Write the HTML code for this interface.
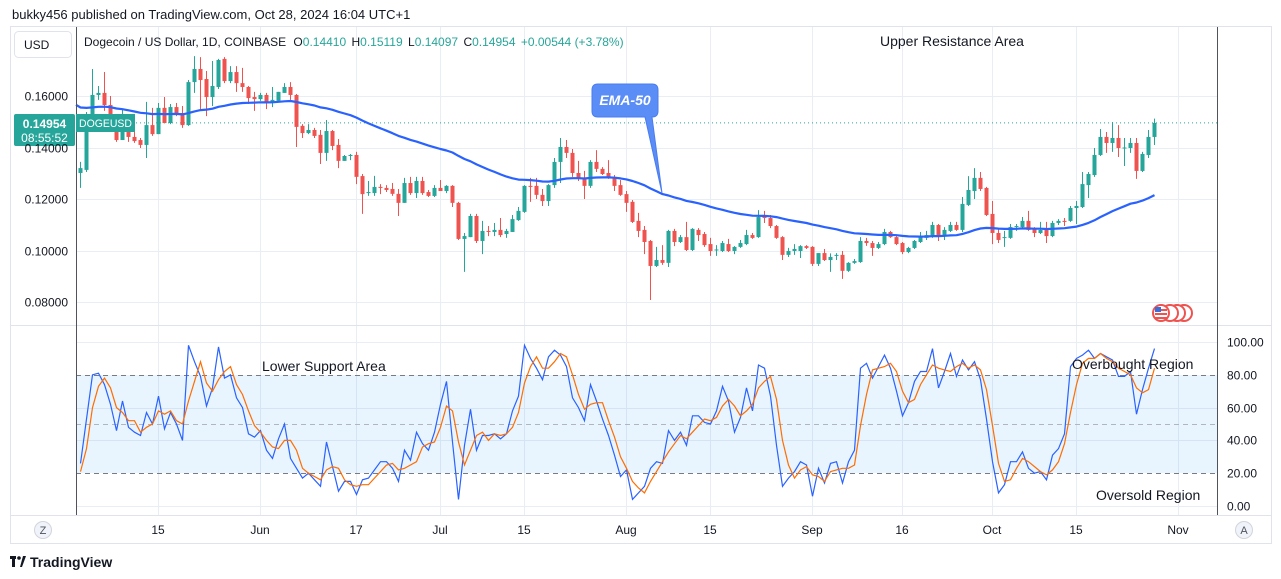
<!DOCTYPE html>
<html><head><meta charset="utf-8"><style>
html,body{margin:0;padding:0;background:#fff;width:1281px;height:579px;overflow:hidden}
svg{display:block;font-family:"Liberation Sans",sans-serif}
</style></head><body>
<svg id="chart" width="1281" height="579" viewBox="0 0 1281 579" xmlns="http://www.w3.org/2000/svg">
<text x="12" y="19" font-size="13" fill="#131722">bukky456 published on TradingView.com, Oct 28, 2024 16:04 UTC+1</text>
<rect x="10.5" y="26.5" width="1261" height="517" fill="none" stroke="#e0e3eb"/>
<g id="grid"></g>
<rect x="76" y="375" width="1141" height="98" fill="#2196f3" fill-opacity="0.1"/>
<g id="marks"></g>
<line x1="10" y1="325.5" x2="1271" y2="325.5" stroke="#e0e3eb"/>
<line x1="10" y1="515.5" x2="1271" y2="515.5" stroke="#e0e3eb"/>
<line x1="76.5" y1="27" x2="76.5" y2="515" stroke="#50535e"/>
<line x1="1217.5" y1="27" x2="1217.5" y2="515" stroke="#50535e"/>
<rect x="14.5" y="31.5" width="57" height="26" rx="4" fill="#fff" stroke="#e0e3eb"/>
<text x="24" y="49" font-size="12" fill="#131722">USD</text>
<text x="84" y="46" font-size="12" fill="#131722">Dogecoin / US Dollar, 1D, COINBASE <tspan dx="4">O</tspan><tspan fill="#26a69a">0.14410</tspan> <tspan dx="2">H</tspan><tspan fill="#26a69a">0.15119</tspan> <tspan dx="2">L</tspan><tspan fill="#26a69a">0.14097</tspan> <tspan dx="2">C</tspan><tspan fill="#26a69a">0.14954</tspan> <tspan dx="2" fill="#26a69a">+0.00544 (+3.78%)</tspan></text>
<text x="880" y="46" font-size="14" fill="#131722">Upper Resistance Area</text>
<text x="262" y="371" font-size="14" fill="#131722">Lower Support Area</text>
<text x="1072" y="369" font-size="14" fill="#131722">Overbought Region</text>
<text x="1096" y="500" font-size="14" fill="#131722">Oversold Region</text>
<g>
<path d="M598,84 H652 Q658,84 658,90 V111 Q658,117 652,117 L662,193 L645,117 H598 Q592,117 592,111 V90 Q592,84 598,84 Z" fill="#5b8df7" stroke="#4a7cf0"/>
<text x="625" y="105" font-size="14" font-style="italic" font-weight="bold" fill="#fff" text-anchor="middle">EMA-50</text>
</g>
<g>
<rect x="14" y="114" width="61" height="32" rx="2" fill="#26a69a"/>
<text x="44.5" y="128" font-size="12" font-weight="bold" fill="#fff" text-anchor="middle">0.14954</text>
<text x="44.5" y="142" font-size="12" fill="#fff" text-anchor="middle">08:55:52</text>
</g>
<g>
<rect x="76" y="114" width="59" height="18" fill="#26a69a"/>
<text x="79" y="127" font-size="11" fill="#fff" textLength="53" lengthAdjust="spacingAndGlyphs">DOGEUSD</text>
</g>
<g>
<circle cx="1184" cy="313" r="8" fill="#fff" stroke="#ef5350" stroke-width="2"/>
<circle cx="1177" cy="313" r="8" fill="#fff" stroke="#ef5350" stroke-width="2"/>
<circle cx="1170" cy="313" r="8" fill="#fff" stroke="#ef5350" stroke-width="2"/>
<circle cx="1161" cy="313" r="8" fill="#fff" stroke="#ef5350" stroke-width="2"/>
<rect x="1155" y="309" width="12" height="2" fill="#ef5350"/><rect x="1155" y="313" width="12" height="2" fill="#ef5350"/><rect x="1155" y="317" width="12" height="2" fill="#ef5350"/>
<rect x="1155" y="307" width="6" height="5" fill="#3b6fd8"/>
</g>
<g><circle cx="43" cy="530" r="8.5" fill="#f0f3fa" stroke="#d1d4dc"/><text x="43" y="534" font-size="11" fill="#50535e" text-anchor="middle">Z</text></g>
<g><circle cx="1244" cy="530" r="8.5" fill="#f0f3fa" stroke="#d1d4dc"/><text x="1244" y="534" font-size="11" fill="#50535e" text-anchor="middle">A</text></g>
<g>
<rect x="10" y="556" width="6" height="3" fill="#131722"/><rect x="12" y="556" width="3" height="11" fill="#131722"/><circle cx="19" cy="558" r="1.8" fill="#131722"/><path d="M20,567 L23,556 L26,556 L22,567 Z" fill="#131722"/>
<text x="30" y="567" font-size="14" font-weight="bold" fill="#131722">TradingView</text>
</g>
</svg>
<script>
// Prices in thousandths of USD
const openP=[130.1,131.3,151.5,160.4,161.2,156.5,148.7,142.9,147.2,144.1,142.9,141.0,148.7,145.2,155.4,149.5,155.7,153.4,148.7,165.4,170.5,166.6,159.6,163.5,174.4,165.8,169.3,165.0,163.5,159.6,158.8,160.4,157.3,158.1,161.2,163.5,160.4,148.4,145.6,146.8,144.9,137.9,146.4,141.0,134.8,136.7,137.1,128.9,122.3,122.3,124.7,124.3,123.9,122.0,118.5,126.2,122.3,127.0,122.7,121.2,124.3,123.1,125.1,118.5,104.5,105.2,113.4,103.7,107.6,107.2,108.0,106.4,107.2,111.8,115.0,125.1,125.1,121.6,119.2,125.4,134.4,140.2,137.9,130.1,128.2,125.1,134.4,131.7,130.1,128.6,125.4,121.9,118.9,111.5,108.0,103.7,94.0,96.3,95.2,107.6,103.3,105.2,100.2,108.0,106.4,102.5,100.2,99.8,102.5,99.8,101.4,102.5,106.0,105.2,113.0,112.6,109.5,105.2,98.3,99.8,99.8,101.7,101.4,94.8,99.0,96.3,97.9,98.3,92.1,95.2,95.5,103.7,102.9,101.0,102.5,107.2,105.2,102.9,99.4,101.0,103.3,104.9,106.0,109.9,106.0,107.6,109.9,108.0,117.7,123.1,128.2,124.3,114.2,106.8,104.9,104.9,109.1,109.1,111.5,108.4,106.8,108.0,105.6,110.7,111.5,111.5,116.5,116.9,125.4,129.3,137.1,144.1,141.75,143.7,139.8,139.8,141.75,130.9,137.1,144.10];
const highP=[134.4,153.8,170.5,163.9,169.3,160.0,150.7,154.6,150.7,147.6,143.7,157.7,155.4,157.3,159.6,156.9,157.3,156.1,166.2,175.5,175.1,169.7,173.6,174.4,175.1,171.6,171.6,170.9,163.9,161.6,161.2,161.2,163.5,161.6,165.0,165.4,160.8,149.1,149.1,147.6,146.8,150.7,146.8,143.3,137.1,137.5,138.3,129.7,127.0,129.0,125.8,125.4,126.2,123.9,128.2,128.6,128.6,128.6,123.5,125.4,127.4,125.4,125.4,118.9,106.8,114.2,114.2,111.5,109.5,110.7,112.6,108.4,113.8,116.9,125.4,128.2,128.2,123.9,125.8,135.9,143.7,142.9,139.4,134.8,130.9,135.1,139.0,132.4,135.1,129.3,127.4,123.1,119.6,114.6,109.5,104.1,101.4,102.1,108.0,108.4,106.0,111.1,108.7,108.7,107.2,104.9,102.1,103.7,104.5,101.7,104.1,108.0,106.8,115.7,115.4,113.8,109.9,105.6,101.0,102.5,102.1,102.1,101.7,98.9,100.6,98.9,99.0,99.8,95.5,96.7,105.2,104.9,103.7,103.3,108.4,107.6,105.6,103.3,101.4,104.1,107.2,107.6,111.1,110.3,109.1,111.1,111.1,120.8,128.9,132.0,130.5,124.7,119.2,108.7,107.6,110.3,110.3,113.0,115.4,109.1,111.1,111.1,111.5,112.2,112.6,117.3,119.2,130.5,130.5,139.8,147.2,146.0,149.9,148.7,143.7,143.7,143.7,138.3,146.8,151.19];
const lowP=[124.3,130.5,150.7,158.5,154.2,148.4,142.2,142.9,142.2,141.8,139.8,135.9,144.5,145.2,149.5,149.1,152.2,147.6,148.4,161.2,154.6,152.2,156.1,162.7,165.0,165.0,161.6,161.6,156.9,154.2,158.1,154.9,155.7,158.1,161.2,158.5,140.2,143.7,145.2,143.7,133.6,134.8,139.0,132.0,134.8,135.1,125.8,114.2,121.2,121.2,121.9,122.7,121.2,113.4,118.5,121.6,120.4,121.6,120.8,120.8,123.1,122.3,116.9,104.1,91.7,105.2,102.9,98.6,105.6,105.6,105.2,104.9,107.2,111.5,114.6,118.9,120.0,117.3,117.3,124.3,126.2,135.9,128.6,127.0,120.0,124.3,130.5,129.3,127.8,123.1,121.2,115.0,110.7,105.2,98.6,80.8,93.6,94.4,93.6,101.7,102.9,99.8,99.8,103.7,101.4,97.9,97.9,99.4,99.4,98.6,101.0,102.1,104.5,104.9,110.7,108.7,104.5,96.3,97.5,98.3,97.1,100.6,94.0,94.0,95.9,91.7,96.3,89.0,91.7,94.8,95.2,101.8,97.9,100.6,102.1,104.9,102.1,98.6,99.0,100.6,102.9,104.1,104.9,103.7,104.1,107.2,107.6,107.2,117.3,120.0,123.1,113.4,102.5,102.9,101.4,104.5,107.6,108.7,107.6,105.2,106.4,102.9,105.2,109.9,109.5,111.1,110.3,116.5,120.4,128.6,136.7,137.9,138.3,136.3,132.8,137.9,127.8,130.5,135.9,140.97];
const closeP=[132.0,151.5,160.4,161.2,156.5,151.5,142.9,147.6,144.1,142.5,141.0,148.7,145.2,155.4,149.5,155.7,153.4,148.7,165.4,170.5,166.2,159.6,163.9,174.0,165.8,169.3,165.0,163.5,159.2,158.8,160.4,157.3,158.5,161.6,163.5,160.4,148.0,145.6,146.8,144.5,137.9,146.4,140.6,134.8,136.7,137.1,128.6,121.9,122.7,124.7,124.3,123.5,122.0,118.5,126.2,122.3,127.0,122.3,121.2,124.3,123.1,125.1,118.5,104.5,105.6,113.4,103.7,107.6,107.2,108.0,106.0,107.6,112.2,115.4,125.1,124.7,121.6,119.2,125.4,134.4,140.2,137.9,130.1,128.2,125.1,134.4,131.7,129.7,128.2,125.1,121.6,118.5,111.1,107.6,103.3,94.0,96.3,95.2,107.6,103.3,105.2,100.2,108.4,106.0,102.1,99.8,100.4,102.9,99.8,101.4,102.9,106.0,104.9,113.0,112.6,109.5,104.9,98.3,99.8,100.6,101.7,101.0,94.8,99.0,96.3,97.5,98.3,92.1,95.2,95.9,103.7,102.9,101.0,102.5,107.2,105.2,102.5,99.4,101.0,103.7,105.2,106.0,109.9,105.6,108.0,109.9,108.0,118.1,123.5,128.2,123.9,113.8,106.8,104.1,105.2,109.1,109.5,111.5,108.0,106.8,108.0,105.6,110.7,111.5,111.1,116.5,117.3,125.8,129.7,137.1,144.1,141.75,143.7,139.8,140.0,141.75,130.9,137.5,144.1,149.54];
const stochK=[26,53,80,81,74,62,46,64,48,45,43,57,50,67,47,57,50,40,98,88,79,61,72,97,78,80,66,60,44,42,46,34,29,41,50,29,23,17,20,16,12,39,24,9,15,15,7,16,17,22,27,27,23,15,34,28,45,38,34,45,62,76,39,4,37,59,34,43,43,44,41,44,58,67,98,90,84,77,91,95,92,85,66,60,52,74,64,53,43,31,18,22,4,8,12,23,27,26,46,40,45,37,55,55,51,50,58,73,64,45,54,72,58,86,84,67,37,12,17,21,27,25,6,23,14,26,27,14,27,34,84,87,78,85,92,84,70,55,63,76,82,82,96,72,82,93,79,89,83,88,77,53,27,8,13,27,27,33,23,20,21,16,31,35,44,85,90,92,95,90,93,91,89,79,79,82,56,71,84,96];
const stochD=[21,35,60,73,78,72,60,57,52,52,45,48,50,58,56,58,52,50,64,76,88,75,70,77,82,85,74,68,58,49,45,40,36,35,40,40,34,23,20,18,16,22,24,23,16,13,12,13,13,17,21,25,26,22,23,25,27,36,38,39,48,61,58,39,25,34,43,45,40,44,43,44,48,57,75,85,91,84,84,88,93,91,80,68,59,62,63,63,52,42,30,23,15,11,8,15,21,27,33,38,43,41,45,49,53,52,54,61,65,61,55,58,62,72,76,79,65,40,25,17,22,24,19,18,15,21,22,23,23,25,49,68,83,84,85,87,82,70,63,65,74,80,86,84,83,82,85,87,84,86,83,71,49,26,15,16,23,29,27,24,21,19,22,27,38,57,74,87,90,90,93,90,88,84,82,80,72,69,71,84];
const tickLabels=['15','Jun','17','Jul','15','Aug','15','Sep','16','Oct','15','Nov'];
const tickIndex=[13,30,46,60,74,91,105,122,137,152,166,183];
const priceTicks=[160,140,120,100,80];
const stochTicks=[100,80,60,40,20,0];

const NS='http://www.w3.org/2000/svg';
const xOf=i=>80+6*i;
const yP=p=>96+(160-p)*2.575;
const yS=v=>506-v*1.64;
function mk(tag,attrs,parent){const e=document.createElementNS(NS,tag);for(const k in attrs)e.setAttribute(k,attrs[k]);parent.appendChild(e);return e;}
const grid=document.getElementById('grid');
const marks=document.getElementById('marks');
const svg=document.getElementById('chart');

tickIndex.forEach((ti,k)=>{
  const x=xOf(ti)+0.5;
  const gl=mk('line',{x1:x,y1:27,x2:x,y2:515,stroke:'#e9eef4'},grid);
  
  
  const t=mk('text',{x:xOf(ti),y:534,'font-size':12,fill:'#131722','text-anchor':'middle'},svg);
  t.textContent=tickLabels[k];
  
  
});
priceTicks.forEach(p=>{
  const y=Math.round(yP(p))+0.5;
  const gl=mk('line',{x1:76,y1:y,x2:1217,y2:y,stroke:'#e9eef4'},grid);
  
  
  const t=mk('text',{x:68,y:y+4,'font-size':12,fill:'#131722','text-anchor':'end'},svg);
  t.textContent=(p/1000).toFixed(5);
  
  
});
stochTicks.forEach(v=>{
  const y=Math.round(yS(v))+0.5;
  if(v===100||v===60||v===40||v===0){
    const gl=mk('line',{x1:76,y1:y,x2:1217,y2:y,stroke:'#e9eef4'},grid);
    
    
  }
  const t=mk('text',{x:1227,y:y+4,'font-size':12,fill:'#131722'},svg);
  t.textContent=v.toFixed(2);
  
  
});
[[80,'#787b86'],[50,'#b2b5be'],[20,'#787b86']].forEach(([v,c])=>{
  const y=Math.round(yS(v))+0.5;
  const l=mk('line',{x1:76,y1:y,x2:1217,y2:y,stroke:c,'stroke-dasharray':'5,4'},marks);
  
  
});
const lp=mk('line',{x1:76,y1:yP(closeP[closeP.length-1]),x2:1217,y2:yP(closeP[closeP.length-1]),stroke:'#26a69a','stroke-dasharray':'1,3'},marks);



for(let i=0;i<closeP.length;i++){
  const o=openP[i],c=closeP[i];
  const h=Math.max(highP[i],o,c),l=Math.min(lowP[i],o,c);
  const col=c>=o?'#26a69a':'#ef5350';
  const x=xOf(i);
  const g=mk('g',{},marks);
  
  
  mk('line',{x1:x+0.5,y1:yP(h),x2:x+0.5,y2:yP(l),stroke:col,'stroke-width':1},g);
  const yt=yP(Math.max(o,c)),yb=yP(Math.min(o,c));
  mk('rect',{x:x-1.5,y:yt,width:4,height:Math.max(1,yb-yt),fill:col},g);
}
let ema=156.5;const kE=2/51;let d='';
for(let i=0;i<closeP.length;i++){ema=closeP[i]*kE+ema*(1-kE);d+=(i?'L':'M')+(xOf(i)+0.5)+','+yP(ema).toFixed(1);}
const emaPath=mk('path',{d:'M76,'+yP(156.6).toFixed(1)+d.replace(/^M/,'L'),fill:'none',stroke:'#2962ff','stroke-width':2.2,'stroke-linejoin':'round'},marks);


function linePath(arr){return arr.map((v,i)=>(i?'L':'M')+(xOf(i)+0.5)+','+yS(v).toFixed(1)).join('');}
const kp=mk('path',{d:linePath(stochK),fill:'none',stroke:'#2962ff','stroke-width':1.2},marks);


const dp=mk('path',{d:linePath(stochD),fill:'none',stroke:'#ff6d00','stroke-width':1.2},marks);


</script>
</body></html>
